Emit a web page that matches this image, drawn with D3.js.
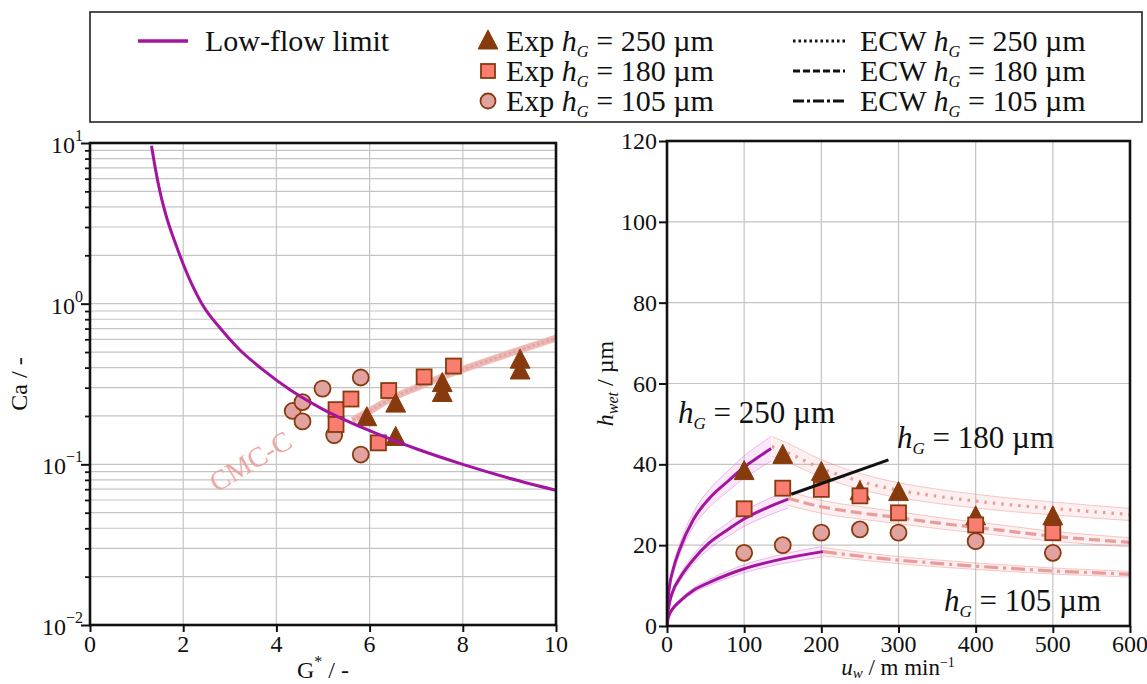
<!DOCTYPE html>
<html><head><meta charset="utf-8">
<script src="https://cdn.jsdelivr.net/npm/d3@7/dist/d3.min.js"></script>
</head><body style="margin:0;background:#fff">
<svg id="chart" width="1147" height="684" style="display:block"></svg>
<script>
// ---------- Left panel data: Ca vs G* ----------
const lowFlowG  = [1.32, 1.40, 1.50, 1.65, 1.85, 2.10, 2.40, 2.80, 3.20, 3.70, 4.30, 5.00, 6.00, 7.00, 8.00, 9.00, 10.0];
const lowFlowCa = [9.6, 7.0, 5.0, 3.4, 2.3, 1.5, 1.0, 0.70, 0.52, 0.39, 0.29, 0.22, 0.162, 0.125, 0.100, 0.082, 0.069];
const cmcG  = [5.63, 6.0, 6.5, 7.0, 7.5, 8.0, 9.0, 10.0];
const cmcCa = [0.188, 0.215, 0.26, 0.30, 0.345, 0.39, 0.49, 0.61];
const exp105G  = [4.35, 4.56, 4.56, 4.99, 5.24, 5.81, 5.81];
const exp105Ca = [0.215, 0.244, 0.185, 0.296, 0.152, 0.347, 0.115];
const exp180G  = [5.28, 5.28, 5.60, 6.19, 6.41, 7.17, 7.80];
const exp180Ca = [0.219, 0.177, 0.255, 0.136, 0.288, 0.350, 0.409];
const exp250G  = [5.94, 6.56, 6.56, 7.56, 7.56, 9.23, 9.23];
const exp250Ca = [0.195, 0.237, 0.147, 0.318, 0.276, 0.445, 0.381];
const leftXTicks = [0, 2, 4, 6, 8, 10];
const leftYMajor = [0.01, 0.1, 1, 10];
const leftYExp = ["\u22122", "\u22121", "0", "1"];

// ---------- Right panel data: h_wet vs u_w ----------
const uwExp   = [100, 150, 200, 250, 300, 400, 500];
const hExp250 = [38.2, 42.2, 38.0, 33.2, 33.0, 27.0, 27.0];
const hExp180 = [29.0, 34.1, 33.8, 32.2, 28.0, 25.0, 23.1];
const hExp105 = [18.1, 20.0, 23.1, 23.9, 23.1, 21.0, 18.1];
const lf250U = [0, 1, 3, 8, 16.5, 34, 55, 80, 99, 120, 135];
const lf250H = [0, 5.5, 9.5, 14.0, 19.0, 26.3, 31.6, 36.0, 39.2, 42.0, 43.9];
const lf180U = [0, 1, 3, 8, 16.5, 34, 55, 80, 99, 130, 157];
const lf180H = [0, 3.0, 5.5, 8.8, 11.8, 16.4, 20.6, 24.0, 26.4, 29.3, 31.4];
const lf105U = [0, 1, 3, 8, 16.5, 34, 55, 80, 99, 150, 202];
const lf105H = [0, 1.5, 2.8, 4.4, 6.1, 8.8, 10.8, 12.8, 14.1, 16.6, 18.4];
const ecw250U = [136, 150, 200, 250, 300, 350, 400, 450, 500, 550, 600];
const ecw250H = [44.4, 43.4, 39.0, 35.8, 33.6, 32.1, 30.9, 29.9, 29.1, 28.3, 27.6];
const ecw180U = [157, 200, 250, 300, 350, 400, 450, 500, 550, 600];
const ecw180H = [31.6, 29.5, 28.0, 26.8, 25.5, 24.4, 23.3, 22.2, 21.4, 20.7];
const ecw105U = [202, 250, 300, 350, 400, 450, 500, 550, 600];
const ecw105H = [18.4, 17.3, 16.3, 15.5, 14.8, 14.2, 13.6, 13.2, 12.8];
const pointerU = [161, 287];
const pointerH = [32.6, 41.1];
const rightXTicks = [0, 100, 200, 300, 400, 500, 600];
const rightYTicks = [0, 20, 40, 60, 80, 100, 120];

// ---------- colours ----------
const PURPLE = "#a3149f";
const BROWN = "#873a0d";
const SALMON = "#fa7d72";
const PINKC = "#e1a3a2";
const ECWC = "#e99c9a";
const GRID = "#c4c4c4";
const FONT = "'Liberation Serif'";

const svg = d3.select("#chart");
const zip = (a, b) => a.map((v, i) => [v, b[i]]);

function triPath(cx, cy, s) { return `M${cx},${cy - s * 0.58}L${cx + s * 0.52},${cy + s * 0.42}L${cx - s * 0.52},${cy + s * 0.42}Z`; }
function drawTri(g, x, y, s) { g.append("path").attr("d", triPath(x, y, s)).attr("fill", BROWN).attr("stroke", BROWN).attr("stroke-width", 1); }
function drawSq(g, x, y, s) { g.append("rect").attr("x", x - s / 2).attr("y", y - s / 2).attr("width", s).attr("height", s).attr("fill", SALMON).attr("stroke", BROWN).attr("stroke-width", 1.8); }
function drawCirc(g, x, y, r) { g.append("circle").attr("cx", x).attr("cy", y).attr("r", r).attr("fill", PINKC).attr("stroke", BROWN).attr("stroke-width", 1.8); }
function txt(g, fs) { return g.append("text").style("font-family", FONT).style("font-size", fs + "px").attr("fill", "#111"); }

// ---------- Legend ----------
const leg = svg.append("g");
leg.append("rect").attr("x", 90).attr("y", 12).attr("width", 1052).attr("height", 110)
  .attr("fill", "#fff").attr("stroke", "#222").attr("stroke-width", 1.6);
const LFS = 30;
leg.append("line").attr("x1", 138).attr("x2", 188).attr("y1", 41).attr("y2", 41).attr("stroke", PURPLE).attr("stroke-width", 3.5);
txt(leg, LFS).attr("x", 205).attr("y", 51).text("Low-flow limit");
const rows = [41, 71, 101];
const hgVals = ["250", "180", "105"];
function hgText(g, x, y, prefix, val, fs) {
  const t = txt(g, fs).attr("x", x).attr("y", y);
  if (prefix) t.append("tspan").text(prefix + " ");
  t.append("tspan").style("font-style", "italic").text("h");
  t.append("tspan").style("font-style", "italic").style("font-size", (fs * 0.55) + "px").attr("dy", fs * 0.2).text("G");
  t.append("tspan").attr("dy", -fs * 0.2).text(" = " + val + " \u00b5m");
  return t;
}
drawTri(leg, 488, rows[0], 19);
drawSq(leg, 488, rows[1], 14);
drawCirc(leg, 488, rows[2], 7.5);
rows.forEach((y, i) => hgText(leg, 506, y + 10, "Exp", hgVals[i], LFS));
const legDash = ["2.5,3", "7,3", "11,3,3,3"];
rows.forEach((y, i) => {
  leg.append("line").attr("x1", 793).attr("x2", 845).attr("y1", y).attr("y2", y)
    .attr("stroke", "#111").attr("stroke-width", 3.2).attr("stroke-dasharray", legDash[i]);
  hgText(leg, 860, y + 10, "ECW", hgVals[i], LFS);
});

// ---------- Left panel ----------
const L = { x0: 90, x1: 556, y0: 143, y1: 625 };
const xL = d3.scaleLinear().domain([0, 10]).range([L.x0, L.x1]);
const yL = d3.scaleLog().domain([0.01, 10]).range([L.y1, L.y0]);
const gl = svg.append("g");
gl.append("clipPath").attr("id", "clipL").append("rect").attr("x", L.x0).attr("y", L.y0).attr("width", L.x1 - L.x0).attr("height", L.y1 - L.y0);
const minorL = [];
[-2, -1, 0].forEach(k => { for (let m = 2; m <= 9; m++) minorL.push(m * Math.pow(10, k)); });
[...minorL, 0.1, 1].forEach(v => gl.append("line").attr("x1", L.x0).attr("x2", L.x1).attr("y1", yL(v)).attr("y2", yL(v)).attr("stroke", GRID).attr("stroke-width", 1.2));
[2, 4, 6, 8].forEach(v => gl.append("line").attr("x1", xL(v)).attr("x2", xL(v)).attr("y1", L.y0).attr("y2", L.y1).attr("stroke", GRID).attr("stroke-width", 1.2));
const lineL = d3.line().x(d => xL(d[0])).y(d => yL(d[1])).curve(d3.curveMonotoneX);
const cmcGrp = gl.append("g").attr("clip-path", "url(#clipL)");
cmcGrp.append("path").attr("d", lineL(zip(cmcG, cmcCa))).attr("fill", "none").attr("stroke", "#eab0ad").attr("stroke-width", 7).attr("opacity", 0.85);
cmcGrp.append("path").attr("d", lineL(zip(cmcG, cmcCa))).attr("fill", "none").attr("stroke", "#e39592").attr("stroke-width", 3).attr("stroke-dasharray", "3,2").attr("opacity", 0.6);
txt(gl, 28).attr("transform", `translate(${xL(3.55)},${yL(0.093)}) rotate(-31)`).attr("text-anchor", "middle")
  .attr("fill", "#ec9f9b").attr("opacity", 0.9).text("CMC-C");
const gmL = gl.append("g");
exp105G.forEach((g, i) => drawCirc(gmL, xL(g), yL(exp105Ca[i]), 8));
exp180G.forEach((g, i) => drawSq(gmL, xL(g), yL(exp180Ca[i]), 15));
exp250G.forEach((g, i) => drawTri(gmL, xL(g), yL(exp250Ca[i]), 19));
gl.append("path").attr("clip-path", "url(#clipL)").attr("d", lineL(zip(lowFlowG, lowFlowCa))).attr("fill", "none").attr("stroke", PURPLE).attr("stroke-width", 3);
gl.append("g").attr("transform", `translate(${L.x0},0)`).call(d3.axisLeft(yL).tickValues(minorL).tickSize(5).tickFormat(""))
  .call(g => { g.select(".domain").remove(); g.selectAll("line").attr("stroke", "#111").attr("stroke-width", 1.8); });
gl.append("g").attr("transform", `translate(${L.x0},0)`).call(d3.axisLeft(yL).tickValues(leftYMajor).tickSize(9).tickFormat(""))
  .call(g => { g.select(".domain").remove(); g.selectAll("line").attr("stroke", "#111").attr("stroke-width", 2); });
gl.append("g").attr("transform", `translate(0,${L.y1})`).call(d3.axisBottom(xL).tickValues(leftXTicks).tickSize(7).tickFormat(""))
  .call(g => { g.select(".domain").remove(); g.selectAll("line").attr("stroke", "#111").attr("stroke-width", 2); });
leftYMajor.forEach((v, i) => {
  const t = txt(gl, 24).attr("x", 83).attr("y", yL(v) + 10).attr("text-anchor", "end");
  t.append("tspan").text("10");
  t.append("tspan").style("font-size", "16px").attr("dy", -12).text(leftYExp[i]);
});
leftXTicks.forEach(v => txt(gl, 24).attr("x", xL(v)).attr("y", 652).attr("text-anchor", "middle").text(v));
gl.append("rect").attr("x", L.x0).attr("y", L.y0).attr("width", L.x1 - L.x0).attr("height", L.y1 - L.y0).attr("fill", "none").attr("stroke", "#111").attr("stroke-width", 2.6);
txt(gl, 24).attr("transform", `translate(27,${(L.y0 + L.y1) / 2}) rotate(-90)`).attr("text-anchor", "middle").text("Ca / -");
{
  const t = txt(gl, 24).attr("x", 323).attr("y", 678).attr("text-anchor", "middle");
  t.append("tspan").text("G");
  t.append("tspan").style("font-size", "16px").attr("dy", -11).text("*");
  t.append("tspan").attr("dy", 11).text("  / -");
}

// ---------- Right panel ----------
const R = { x0: 667, x1: 1130, y0: 141, y1: 626 };
const xR = d3.scaleLinear().domain([0, 600]).range([R.x0, R.x1]);
const yR = d3.scaleLinear().domain([0, 120]).range([R.y1, R.y0]);
const gr = svg.append("g");
gr.append("clipPath").attr("id", "clipR").append("rect").attr("x", R.x0).attr("y", R.y0).attr("width", R.x1 - R.x0).attr("height", R.y1 - R.y0);
[20, 40, 60, 80, 100].forEach(v => gr.append("line").attr("x1", R.x0).attr("x2", R.x1).attr("y1", yR(v)).attr("y2", yR(v)).attr("stroke", GRID).attr("stroke-width", 1.2));
[100, 200, 300, 400, 500].forEach(v => gr.append("line").attr("x1", xR(v)).attr("x2", xR(v)).attr("y1", R.y0).attr("y2", R.y1).attr("stroke", GRID).attr("stroke-width", 1.2));
const gc = gr.append("g").attr("clip-path", "url(#clipR)");
const lineR = d3.line().x(d => xR(d[0])).y(d => yR(d[1])).curve(d3.curveMonotoneX);
function band(us, hs, rel, fill, edge) {
  const pts = zip(us, hs);
  const area = d3.area().x(d => xR(d[0])).y0(d => yR(d[1] * (1 - rel))).y1(d => yR(d[1] * (1 + rel))).curve(d3.curveMonotoneX);
  gc.append("path").attr("d", area(pts)).attr("fill", fill).attr("stroke", "none");
  gc.append("path").attr("d", d3.line().x(d => xR(d[0])).y(d => yR(d[1] * (1 + rel))).curve(d3.curveMonotoneX)(pts)).attr("fill", "none").attr("stroke", edge).attr("stroke-width", 1);
  gc.append("path").attr("d", d3.line().x(d => xR(d[0])).y(d => yR(d[1] * (1 - rel))).curve(d3.curveMonotoneX)(pts)).attr("fill", "none").attr("stroke", edge).attr("stroke-width", 1);
}
const ecwSets = [[ecw250U, ecw250H, "2.5,6"], [ecw180U, ecw180H, "11,5"], [ecw105U, ecw105H, "14,5,3,5"]];
ecwSets.forEach(([u, h]) => band(u, h, 0.055, "rgba(240,160,160,0.17)", "rgba(235,140,140,0.45)"));
ecwSets.forEach(([u, h, da]) => gc.append("path").attr("d", lineR(zip(u, h))).attr("fill", "none").attr("stroke", ECWC).attr("stroke-width", 3.2).attr("stroke-dasharray", da));
const lfSets = [[lf250U, lf250H], [lf180U, lf180H], [lf105U, lf105H]];
lfSets.forEach(([u, h]) => band(u, h, 0.07, "rgba(228,130,228,0.18)", "rgba(215,110,215,0.45)"));
lfSets.forEach(([u, h]) => gc.append("path").attr("d", lineR(zip(u, h))).attr("fill", "none").attr("stroke", PURPLE).attr("stroke-width", 3));
const gmR = gr.append("g");
uwExp.forEach((u, i) => drawTri(gmR, xR(u), yR(hExp250[i]), 19));
uwExp.forEach((u, i) => drawSq(gmR, xR(u), yR(hExp180[i]), 15));
uwExp.forEach((u, i) => drawCirc(gmR, xR(u), yR(hExp105[i]), 8));
gr.append("path").attr("d", d3.line().x(d => xR(d[0])).y(d => yR(d[1]))(zip(pointerU, pointerH))).attr("stroke", "#111").attr("stroke-width", 3);
gr.append("g").attr("transform", `translate(${R.x0},0)`).call(d3.axisLeft(yR).tickValues(rightYTicks).tickSize(8).tickFormat(""))
  .call(g => { g.select(".domain").remove(); g.selectAll("line").attr("stroke", "#111").attr("stroke-width", 2); });
gr.append("g").attr("transform", `translate(0,${R.y1})`).call(d3.axisBottom(xR).tickValues(rightXTicks).tickSize(7).tickFormat(""))
  .call(g => { g.select(".domain").remove(); g.selectAll("line").attr("stroke", "#111").attr("stroke-width", 2); });
rightYTicks.forEach(v => txt(gr, 24).attr("x", 657).attr("y", yR(v) + 8).attr("text-anchor", "end").text(v));
rightXTicks.forEach(v => txt(gr, 24).attr("x", xR(v)).attr("y", 652).attr("text-anchor", "middle").text(v));
gr.append("rect").attr("x", R.x0).attr("y", R.y0).attr("width", R.x1 - R.x0).attr("height", R.y1 - R.y0).attr("fill", "none").attr("stroke", "#111").attr("stroke-width", 2.6);
hgText(gr, 678, 423, null, "250", 31);
hgText(gr, 897, 448, null, "180", 31);
hgText(gr, 944, 611, null, "105", 31);
{
  const t = txt(gr, 24).attr("transform", `translate(613,${(R.y0 + R.y1) / 2}) rotate(-90)`).attr("text-anchor", "middle");
  t.append("tspan").style("font-style", "italic").text("h");
  t.append("tspan").style("font-style", "italic").style("font-size", "16px").attr("dy", 5).text("wet");
  t.append("tspan").attr("dy", -5).text(" / \u00b5m");
}
{
  const t = txt(gr, 23).attr("x", 898).attr("y", 675).attr("text-anchor", "middle");
  t.append("tspan").style("font-style", "italic").text("u");
  t.append("tspan").style("font-style", "italic").style("font-size", "15px").attr("dy", 3).text("w");
  t.append("tspan").attr("dy", -3).text(" / m min");
  t.append("tspan").style("font-size", "14px").attr("dy", -8).text("\u22121");
}
</script>
</body></html>
